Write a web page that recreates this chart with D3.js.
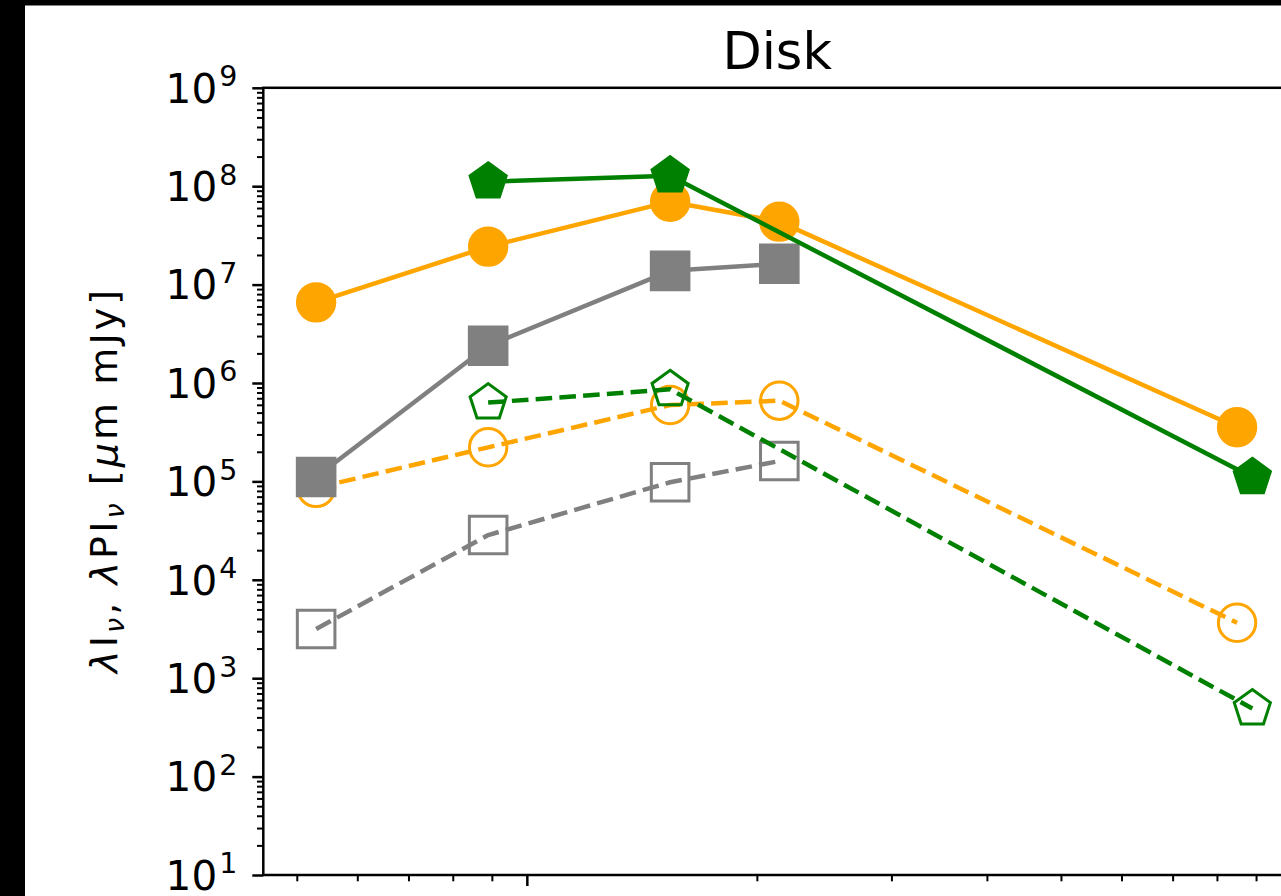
<!DOCTYPE html>
<meta charset="utf-8">
<style>

body {
  margin: 0;
  background: #fff;
}

svg {
  display: block;
  font-family: "DejaVu Sans", sans-serif;
}

.spine {
  fill: none;
  stroke: #000;
  stroke-width: 2.5px;
}

.tick line {
  stroke: #000;
}

</style>
<svg width="1281" height="896"></svg>
<script src="https://cdn.jsdelivr.net/npm/d3@7/dist/d3.min.js"></script>
<script>

// wavelengths [micron]
var lamOrange = [0.53, 0.89, 1.54, 2.14, 8.5];
var lamGray = [0.53, 0.89, 1.54, 2.14];
var lamGreen = [0.89, 1.54, 8.9];

// lambda I_nu (solid line, filled markers)
var totOrange = [6.6e6, 2.43e7, 6.96e7, 4.36e7, 3.55e5];
var totGray = [1.11e5, 2.39e6, 1.38e7, 1.63e7];
var totGreen = [1.11e8, 1.28e8, 1.10e5];

// lambda PI_nu (dashed line, open markers)
var piOrange = [8.6e4, 2.22e5, 5.97e5, 6.61e5, 3.66e3];
var piGray = [3.16e3, 2.85e4, 9.8e4, 1.61e5];
var piGreen = [6.32e5, 8.63e5, 4.92e2];

var yExponents = [1, 2, 3, 4, 5, 6, 7, 8, 9];
var xMajor = [1, 10];
var title = "Disk";

var series = [
  {x: lamOrange, y: totOrange, color: "orange", marker: "circle", open: false},
  {x: lamOrange, y: piOrange, color: "orange", marker: "circle", open: true},
  {x: lamGray, y: totGray, color: "gray", marker: "square", open: false},
  {x: lamGray, y: piGray, color: "gray", marker: "square", open: true},
  {x: lamGreen, y: totGreen, color: "green", marker: "pentagon", open: false},
  {x: lamGreen, y: piGreen, color: "green", marker: "pentagon", open: true}
];

var svg = d3.select("svg"),
    pLeft = 263.3,
    pRight = 1291,
    pTop = 87.8,
    pBottom = 875;

var x = d3.scaleLog().domain([0.452, 10]).range([pLeft, pRight]);
var y = d3.scaleLog().domain([1e1, 1e9]).range([pBottom, pTop]);

svg.append("rect")
    .attr("width", 1281)
    .attr("height", 896)
    .attr("fill", "#fff");

// minor ticks
var yMinor = [];
yExponents.slice(0, -1).forEach(function(e) {
  for (var m = 2; m < 10; m++) yMinor.push(m * Math.pow(10, e));
});
var xMinor = [];
[0.1, 1].forEach(function(d) {
  for (var m = 2; m < 10; m++) if (m * d > 0.452) xMinor.push(m * d);
});

svg.append("g")
    .attr("transform", "translate(" + pLeft + ",0)")
    .call(d3.axisLeft(y).tickValues(yMinor).tickSize(6.3).tickSizeOuter(0).tickFormat(""))
    .call(function(g) { g.select(".domain").remove(); g.selectAll(".tick line").attr("stroke-width", 2); });

svg.append("g")
    .attr("transform", "translate(" + pLeft + ",0)")
    .call(d3.axisLeft(y).tickValues(yExponents.map(function(e) { return Math.pow(10, e); }))
      .tickSize(11).tickSizeOuter(0).tickFormat(""))
    .call(function(g) { g.select(".domain").remove(); g.selectAll(".tick line").attr("stroke-width", 2.5); });

svg.append("g")
    .attr("transform", "translate(0," + pBottom + ")")
    .call(d3.axisBottom(x).tickValues(xMinor).tickSize(6.3).tickSizeOuter(0).tickFormat(""))
    .call(function(g) { g.select(".domain").remove(); g.selectAll(".tick line").attr("stroke-width", 2); });

svg.append("g")
    .attr("transform", "translate(0," + pBottom + ")")
    .call(d3.axisBottom(x).tickValues(xMajor).tickSize(11).tickSizeOuter(0).tickFormat(""))
    .call(function(g) { g.select(".domain").remove(); g.selectAll(".tick line").attr("stroke-width", 2.5); });

// y tick labels 10^n
var lab = svg.append("g").selectAll("text")
  .data(yExponents)
  .enter().append("text")
    .attr("x", pLeft - 26)
    .attr("y", function(d) { return y(Math.pow(10, d)) + 14.8; })
    .attr("text-anchor", "end")
    .attr("font-size", 40.5);
lab.append("tspan").text("10");
lab.append("tspan")
    .attr("dx", 2)
    .attr("dy", -16.5)
    .attr("font-size", 28.5)
    .text(function(d) { return d; });

svg.append("rect")
    .attr("class", "spine")
    .attr("x", pLeft)
    .attr("y", pTop)
    .attr("width", pRight - pLeft)
    .attr("height", pBottom - pTop);

// markers
var pentagon = function(r) {
  return d3.range(5).map(function(i) {
    var a = i * 2 * Math.PI / 5;
    return [r * Math.sin(a), -r * Math.cos(a)];
  });
};
function markerPath(type) {
  if (type == "circle") return d3.symbol(d3.symbolCircle, Math.PI * 18.7 * 18.7)();
  if (type == "square") return d3.symbol(d3.symbolSquare, 37.6 * 37.6)();
  return "M" + pentagon(19).join("L") + "Z";
}

var line = d3.line()
    .x(function(d) { return x(d[0]); })
    .y(function(d) { return y(d[1]); });

series.forEach(function(s) {
  var pts = d3.zip(s.x, s.y);
  var g = svg.append("g");
  g.append("path")
      .datum(pts)
      .attr("d", line)
      .attr("fill", "none")
      .attr("stroke", s.color)
      .attr("stroke-width", 4.5)
      .attr("stroke-linejoin", "round")
      .attr("stroke-dasharray", s.open ? "16.6,7.2" : null);
  g.selectAll(".mk")
    .data(pts)
    .enter().append("path")
      .attr("class", "mk")
      .attr("transform", function(d) { return "translate(" + x(d[0]) + "," + y(d[1]) + ")"; })
      .attr("d", markerPath(s.marker))
      .attr("fill", s.open ? "none" : s.color)
      .attr("stroke", s.color)
      .attr("stroke-width", 3);
});

svg.append("text")
    .attr("x", (pLeft + pRight) / 2)
    .attr("y", 68.5)
    .attr("text-anchor", "middle")
    .attr("font-size", 51)
    .text(title);

// y label: lambda I_nu, lambda PI_nu [mu m mJy]
var yl = svg.append("text")
    .attr("transform", "translate(117," + (pTop + pBottom) / 2 + ") rotate(-90)")
    .attr("text-anchor", "middle")
    .attr("font-size", 38)
    .attr("textLength", 383)
    .attr("lengthAdjust", "spacing");
yl.append("tspan").attr("font-style", "italic").text("λ");
yl.append("tspan").text("I");
yl.append("tspan").attr("font-style", "italic").attr("font-size", 27).attr("dy", 7).text("ν");
yl.append("tspan").attr("dy", -7).text(", ");
yl.append("tspan").attr("font-style", "italic").text("λ");
yl.append("tspan").text("PI");
yl.append("tspan").attr("font-style", "italic").attr("font-size", 27).attr("dy", 7).text("ν");
yl.append("tspan").attr("dy", -7).text(" [");
yl.append("tspan").attr("font-style", "italic").text("μ");
yl.append("tspan").text("m mJy]");

// figure frame edge (cropped)
svg.append("rect").attr("width", 25).attr("height", 896).attr("fill", "#000");
svg.append("rect").attr("width", 1281).attr("height", 5.5).attr("fill", "#000");

</script>
